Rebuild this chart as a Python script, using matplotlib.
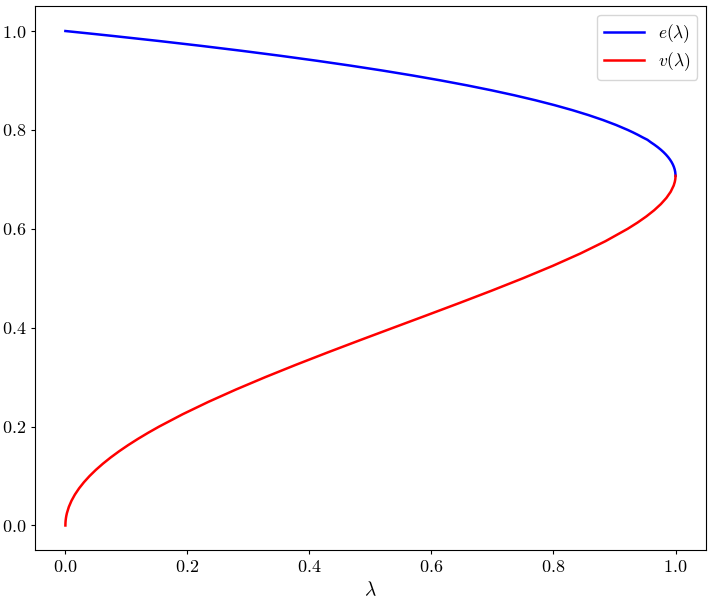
import matplotlib
matplotlib.use("Agg")
import matplotlib.pyplot as plt

# values (lambda positions at given curve heights)
v_vals = [0.0, 0.005, 0.01, 0.015, 0.02, 0.025, 0.0375, 0.05, 0.0625, 0.075,
          0.0875, 0.1, 0.1125, 0.125, 0.1375, 0.15, 0.1625, 0.175, 0.1875,
          0.2, 0.225, 0.25, 0.275, 0.3, 0.325, 0.35, 0.375, 0.4, 0.425, 0.45,
          0.475, 0.5, 0.525, 0.55, 0.575, 0.6, 0.6125, 0.625, 0.6375, 0.65,
          0.6625, 0.675, 0.6875, 0.695, 0.7, 0.703, 0.70711]
lam_v = [0.0, 0.0001, 0.0004, 0.0009, 0.001599, 0.0025, 0.005617, 0.009975,
         0.015564, 0.022373, 0.030391, 0.0396, 0.049984, 0.061523, 0.074195,
         0.087975, 0.102836, 0.118748, 0.135681, 0.1536, 0.192248, 0.234375,
         0.279623, 0.3276, 0.377873, 0.429975, 0.483398, 0.5376, 0.592,
         0.645975, 0.698873, 0.75, 0.798623, 0.843975, 0.885248, 0.9216,
         0.937656, 0.952148, 0.964961, 0.975975, 0.985071, 0.992123, 0.997009,
         0.998847, 0.9996, 0.999864, 1.0]

e_vals = [1.0, 0.995, 0.99, 0.98, 0.97, 0.96, 0.95, 0.94, 0.93, 0.92, 0.91,
          0.90, 0.89, 0.88, 0.87, 0.86, 0.85, 0.84, 0.83, 0.82, 0.81, 0.80,
          0.795, 0.79, 0.785, 0.78, 0.775, 0.77, 0.765, 0.76, 0.755, 0.75,
          0.745, 0.74, 0.735, 0.73, 0.725, 0.72, 0.715, 0.71, 0.70711]
lam_e = [0.0, 0.039502, 0.078016, 0.152127, 0.222429, 0.289014, 0.351975,
         0.411404, 0.467392, 0.520028, 0.569402, 0.6156, 0.65871, 0.698819,
         0.73601, 0.770367, 0.801975, 0.830915, 0.857267, 0.881113, 0.902531,
         0.9216, 0.930277, 0.938397, 0.945968, 0.953998, 0.959498, 0.965478,
         0.970947, 0.975913, 0.980386, 0.984375, 0.987887, 0.990937, 0.993528,
         0.99567, 0.997373, 0.998646, 0.999497, 0.999933, 1.0]

plt.rcParams["mathtext.fontset"] = "cm"
plt.rcParams["font.family"] = "serif"
plt.rcParams["font.serif"] = ["cmr10", "DejaVu Serif"]
plt.rcParams["axes.formatter.use_mathtext"] = True

fig = plt.figure(figsize=(7.12, 6), dpi=100)
ax = fig.add_axes([0.049, 0.083, 0.9426, 0.9065])

ax.plot(lam_e, e_vals, color="blue", lw=1.8, label=r"$e(\lambda)$")
ax.plot(lam_v, v_vals, color="red", lw=1.8, label=r"$v(\lambda)$")

ticks = [0.0, 0.2, 0.4, 0.6, 0.8, 1.0]
ax.set_xticks(ticks)
ax.set_yticks(ticks)
ax.set_xticklabels([f"${t:.1f}$" for t in ticks])
ax.set_yticklabels([f"${t:.1f}$" for t in ticks])
ax.tick_params(labelsize=13, length=2.8)
ax.set_xlabel(r"$\lambda$", fontsize=14)
ax.legend(loc="upper right", fontsize=12.5, handlelength=2.3,
          labelspacing=0.3)

fig.savefig("out.png", dpi=100)
